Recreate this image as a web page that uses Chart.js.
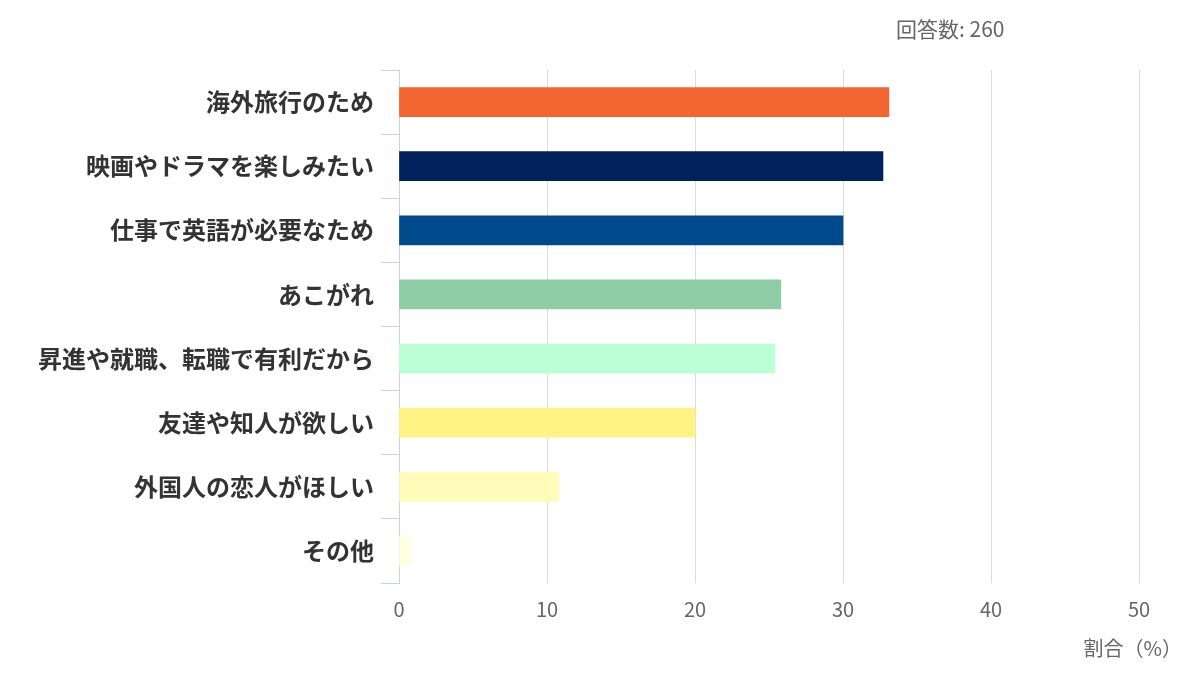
<!DOCTYPE html>
<html lang="ja">
<head>
  <meta charset="UTF-8">
  <title>回答</title>
  <script src="https://cdn.jsdelivr.net/npm/chart.js"></script>
  <style>
    html, body { margin: 0; padding: 0; background: #fff; }
    #wrap { width: 1200px; height: 681px; position: relative; }
  </style>
</head>
<body>
  <div id="wrap"><canvas id="chart" width="1200" height="681"></canvas></div>

  <script>
    // data
    const categories = [
      '海外旅行のため',
      '映画やドラマを楽しみたい',
      '仕事で英語が必要なため',
      'あこがれ',
      '昇進や就職、転職で有利だから',
      '友達や知人が欲しい',
      '外国人の恋人がほしい',
      'その他'
    ];
    const percents = [33.1, 32.7, 30.0, 25.8, 25.4, 20.0, 10.8, 0.8];
    const barColors = ['#f26430', '#00215c', '#004a8c', '#8ecca6', '#bcffd6', '#fff385', '#fffbb8', '#fffde2'];
    const xTicks = [0, 10, 20, 30, 40, 50];
    const answerCount = '回答数: 260';
    const xTitle = '割合（%）';

    const FONT = '"Noto Sans CJK JP", "Noto Sans", sans-serif';

    // extra texts: answer count at top, axis title at bottom right
    const extraText = {
      id: 'extraText',
      afterDraw(chart) {
        const ctx = chart.ctx;
        ctx.save();
        ctx.fillStyle = '#666';
        ctx.font = '21px ' + FONT;
        ctx.textBaseline = 'middle';
        ctx.textAlign = 'left';
        ctx.fillText(answerCount, 896, 29);
        ctx.font = '20px ' + FONT;
        ctx.textAlign = 'right';
        ctx.fillText(xTitle, 1182, 648);
        ctx.restore();
      }
    };

    new Chart(document.getElementById('chart'), {
      type: 'bar',
      data: {
        labels: categories,
        datasets: [{
          data: percents,
          backgroundColor: barColors,
          borderWidth: 0,
          barThickness: 29
        }]
      },
      options: {
        indexAxis: 'y',
        responsive: false,
        animation: false,
        layout: { padding: { top: 70, right: 61, bottom: 0, left: 0 } },
        plugins: {
          legend: { display: false },
          tooltip: { enabled: false }
        },
        scales: {
          y: {
            afterFit(scale) { scale.width = 399; },
            grid: {
              drawOnChartArea: false,
              drawTicks: true,
              tickLength: 18,
              color: '#c8d2e4'
            },
            border: { color: '#c8d2e4', width: 1 },
            ticks: {
              color: '#333',
              padding: 7,
              font: { family: FONT, size: 24, weight: 'bold' }
            }
          },
          x: {
            min: 0,
            max: 50,
            afterFit(scale) { scale.height = 98; },
            afterBuildTicks(scale) { scale.ticks = xTicks.map(v => ({ value: v })); },
            grid: {
              color: '#dcdcdc',
              lineWidth: 1,
              drawTicks: false
            },
            border: { display: false },
            ticks: {
              color: '#666',
              padding: 14,
              font: { family: FONT, size: 20 }
            }
          }
        }
      },
      plugins: [extraText]
    });
  </script>
</body>
</html>
